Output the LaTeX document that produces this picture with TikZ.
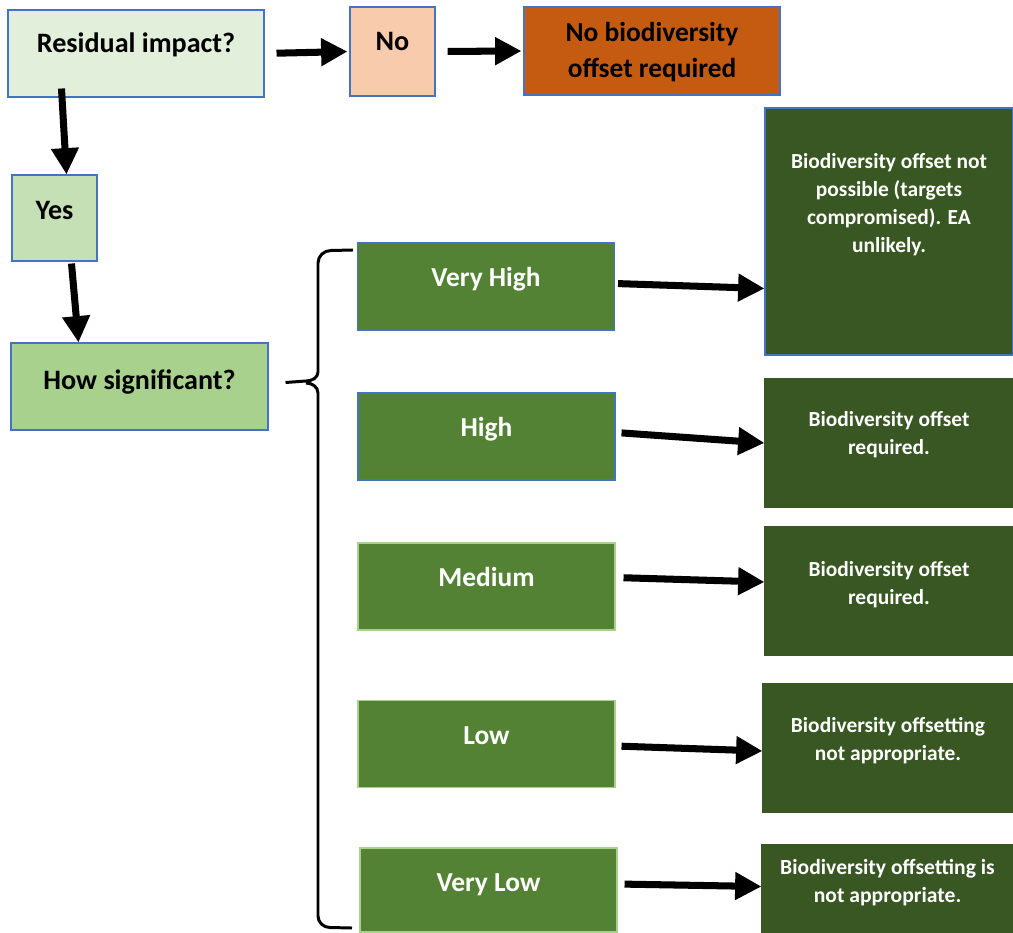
\documentclass[tikz,border=0pt]{standalone}
\usepackage{fontspec}
\setmainfont{Carlito}
\usetikzlibrary{arrows.meta, positioning, calc}
\definecolor{boxline}{RGB}{68, 114, 196}
\definecolor{palegreen}{RGB}{226, 239, 218}
\definecolor{yesgreen}{RGB}{197, 224, 180}
\definecolor{askgreen}{RGB}{169, 209, 142}
\definecolor{levelgreen}{RGB}{84, 130, 53}
\definecolor{resgreen}{RGB}{56, 87, 35}
\definecolor{nopeach}{RGB}{248, 203, 173}
\definecolor{norust}{RGB}{197, 90, 17}
\def\pu{0.02cm}

\begin{document}
\begin{tikzpicture}[x=0.02cm, y=-0.02cm,
  qbox/.style={draw=boxline, line width=0.6pt, inner xsep=0pt, inner ysep=0pt,
    font=\fontsize{16}{19}\selectfont\bfseries, text height=43.5*\pu, text depth=43.5*\pu},
  levelbox/.style={qbox, fill=levelgreen, text=white, minimum width=257*\pu,
    font=\fontsize{15.6}{19}\selectfont\bfseries},
  resbox/.style={draw=boxline, line width=0.6pt, fill=resgreen, minimum width=248*\pu, inner sep=0pt},
  restext/.style={text=white, font=\fontsize{12.2}{15.8}\selectfont\bfseries, align=center, inner sep=0pt, anchor=north},
  flow/.style={line width=4pt, -{Triangle[length=15pt, width=15pt]}},
  brace/.style={line width=1.7pt, line join=round}]
  \useasboundingbox (0,0) rectangle (1013,932);

  % question row
  \node[qbox, fill=palegreen, minimum width=256*\pu, text height=42.5*\pu, text depth=44.5*\pu] (resid) at (136,53.5) {Residual impact?};
  \node[qbox, fill=nopeach, minimum width=85*\pu, text height=44*\pu, text depth=45*\pu] (no) at (392.5,51.5) {No};
  \node[qbox, fill=norust, minimum width=256*\pu, text height=44*\pu, text depth=44*\pu] (nobio) at (652,51) {};
  \node[font=\fontsize{15.6}{20}\selectfont\bfseries, align=center, inner sep=0pt] (nobiotext) at ([yshift=-1*\pu]nobio) {No biodiversity\\offset required};
  \node[qbox, fill=yesgreen, minimum width=85*\pu, text height=45*\pu, text depth=41*\pu] (yes) at (54.5,218) {Yes};
  \node[qbox, fill=askgreen, minimum width=257*\pu, text height=46*\pu, text depth=41*\pu] (howsig) at (139.5,386.5) {How significant?};

  % significance levels
  \node[levelbox] (veryhigh) at (486,286.5) {Very High};
  \node[levelbox] (high) at (486.5,436.5) {High};
  \node[levelbox, draw=askgreen] (medium) at (486.5,586.5) {Medium};
  \node[levelbox, draw=askgreen] (low) at (486.5,744) {Low};
  \node[levelbox, draw=askgreen, text height=43*\pu, text depth=41*\pu] (verylow) at (488.5,890) {Very Low};

  % outcomes
  \node[resbox, minimum height=247*\pu] (vhres) at (889,231.5) {};
  \node[restext] at ([yshift=-46*\pu]vhres.north) {Biodiversity offset not\\possible (targets\\compromised). EA\\unlikely.};
  \node[resbox, minimum height=128*\pu, draw=resgreen] (hres) at (889,443) {};
  \node[restext] at ([yshift=-33*\pu]hres.north) {Biodiversity offset\\required.};
  \node[resbox, minimum height=128*\pu, draw=resgreen] (mres) at (889,591) {};
  \node[restext] at ([yshift=-35*\pu]mres.north) {Biodiversity offset\\required.};
  \node[resbox, minimum height=128*\pu, draw=resgreen, minimum width=250*\pu] (lres) at (888,748) {};
  \node[restext] at ([yshift=-34*\pu]lres.north) {Biodiversity offsetting\\not appropriate.};
  \node[resbox, minimum height=87*\pu, draw=resgreen, minimum width=251*\pu] (vlres) at (887.5,888.5) {};
  \node[restext, font=\fontsize{12.3}{16}\selectfont\bfseries] at ([yshift=-14*\pu]vlres.north) {Biodiversity offsetting is\\not appropriate.};

  % arrows
  \draw[flow, shorten <=12*\pu, shorten >=2*\pu] (resid.east) -- (no.west);
  \draw[flow, shorten <=12*\pu, shorten >=2*\pu] (no.east) -- (nobio.west);
  \draw[flow] ([xshift=54*\pu, yshift=9*\pu]resid.south west) -- ([xshift=12*\pu]yes.north);
  \draw[flow] ([xshift=17*\pu, yshift=-2*\pu]yes.south) -- ([xshift=-61*\pu]howsig.north);
  \draw[flow, shorten <=3*\pu] ([yshift=3*\pu]veryhigh.east) -- ([yshift=-2*\pu]veryhigh.east -| vhres.west);
  \draw[flow, shorten <=6*\pu] ([yshift=4*\pu]high.east) -- (hres.west);
  \draw[flow, shorten <=8*\pu] ([yshift=9*\pu]medium.east) -- ([yshift=9*\pu]mres.west);
  \draw[flow, shorten <=6*\pu] ([yshift=-2*\pu]low.east) -- ([yshift=-3*\pu]lres.west);
  \draw[flow, shorten <=7*\pu] ([yshift=6*\pu]verylow.east) -- ([yshift=2*\pu]vlres.west);

  % brace
  \coordinate (brtip) at ([xshift=17*\pu, yshift=4*\pu]howsig.east);
  \draw[brace] (353,250) -- (331,250.5) to[out=180,in=90] (318,263) -- (318,372)
    to[out=-90,in=0] (306,381) -- (brtip);
  \draw[brace] (306,383) to[out=0,in=90] (318,393) -- (318,916) to[out=-90,in=180] (330,927.5) -- (352,928);
\end{tikzpicture}
\end{document}
